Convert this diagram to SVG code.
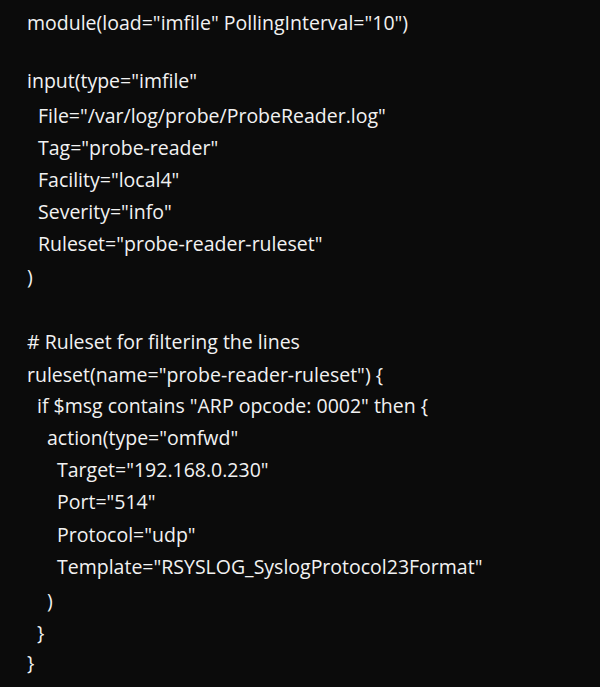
<svg xmlns="http://www.w3.org/2000/svg" width="600" height="687" viewBox="0 0 600 687">
<style>text{font-family:"Open Sans","Liberation Sans",sans-serif;font-size:19.5px;fill:#f2f2f2;dominant-baseline:central}</style>
<rect width="600" height="687" fill="#0b0b0b"/>
<g id="code">
<text x="27" y="22">module(load="imfile" PollingInterval="10")</text>
<text x="27" y="80">input(type="imfile"</text>
<text x="38" y="115">File="/var/log/probe/ProbeReader.log"</text>
<text x="38" y="147">Tag="probe-reader"</text>
<text x="38" y="179">Facility="local4"</text>
<text x="38" y="211">Severity="info"</text>
<text x="38" y="243">Ruleset="probe-reader-ruleset"</text>
<text x="27" y="276">)</text>
<text x="27" y="341"># Ruleset for filtering the lines</text>
<text x="27" y="374">ruleset(name="probe-reader-ruleset") {</text>
<text x="37" y="405">if $msg contains "ARP opcode: 0002" then {</text>
<text x="47" y="437">action(type="omfwd"</text>
<text x="57" y="469">Target="192.168.0.230"</text>
<text x="57" y="501">Port="514"</text>
<text x="57" y="534">Protocol="udp"</text>
<text x="57" y="566">Template="RSYSLOG_SyslogProtocol23Format"</text>
<text x="47" y="600">)</text>
<text x="37" y="632">}</text>
<text x="27" y="662">}</text>
</g>
</svg>
